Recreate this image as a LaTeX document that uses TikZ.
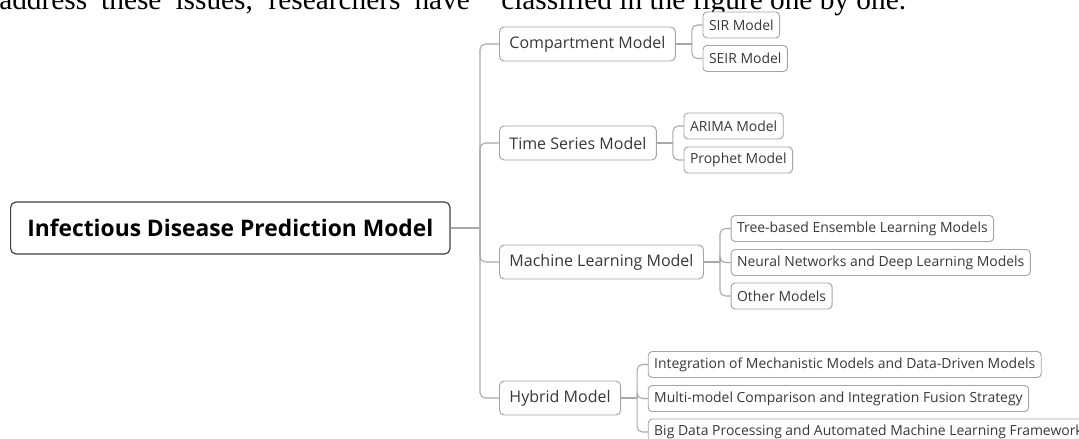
\documentclass[tikz,border=0pt]{standalone}
\usepackage{fontspec}
\setmainfont{Open Sans}
\newfontfamily\pagefont{Liberation Serif}
\usetikzlibrary{positioning}
\definecolor{lineg}{HTML}{A8A8A8}
\definecolor{boxg}{HTML}{A4A4A4}
\definecolor{txtg}{HTML}{383838}
\tikzset{
  rootbox/.style={draw=black!75, fill=white, rounded corners=4pt, line width=0.9pt,
                  minimum height=39pt, inner xsep=12.5pt, anchor=west,
                  font=\fontsize{17.1}{20}\selectfont\bfseries},
  catbox/.style={draw=boxg, fill=white, rounded corners=3.5pt, line width=0.7pt,
                 minimum height=25.5pt, inner xsep=7.5pt, anchor=west, text=txtg,
                 font=\fontsize{12}{14}\selectfont},
  leafbox/.style={draw=boxg, fill=white, rounded corners=3pt, line width=0.7pt,
                  minimum height=19.5pt, inner xsep=4.5pt, anchor=west, text=txtg,
                  xshift=8pt, font=\fontsize{10.45}{12}\selectfont},
  br/.style={draw=lineg, line width=0.8pt, rounded corners=4pt},        % branch line
  pagetxt/.style={font=\pagefont\fontsize{22}{26}\selectfont, inner sep=0pt, anchor=base west},
}
\begin{document}
\begin{tikzpicture}[x=0.75pt, y=-0.75pt]
  \path[use as bounding box] (0,0) rectangle (1079,439);
  \clip (0,0) rectangle (1079,439);
  % text of the page, cut off above the figure
  \node[pagetxt] (pl) at (-1,10) {\makebox[353pt][s]{address these issues, researchers have}};
  \node[pagetxt] (pr) at (501,10) {classified in the figure one by one.};

  \node[rootbox] (root) at (10,228) {Infectious Disease Prediction Model};
  % first level
  \node[catbox] (cm) at (499,44)  {Compartment Model};
  \node[catbox] (ts) at (499,143) {Time Series Model};
  \node[catbox] (ml) at (499,262) {Machine Learning Model};
  \node[catbox] (hy) at (499,398) {Hybrid Model};
  % junctions
  \coordinate (rj) at (480,228);
  \coordinate[right=12pt of cm] (cmj);
  \coordinate[right=12pt of ts] (tsj);
  \coordinate[right=12pt of ml] (mlj);
  \coordinate[right=12pt of hy] (hyj);
  % second level
  \node[leafbox] (sir)  at (cmj |- 0,25)    {SIR Model};
  \node[leafbox] (seir) at (cmj |- 0,58.5)  {SEIR Model};
  \node[leafbox] (ar)   at (tsj |- 0,126)   {ARIMA Model};
  \node[leafbox] (pro)  at (tsj |- 0,160)   {Prophet Model};
  \node[leafbox] (tree) at (mlj |- 0,228.5) {Tree-based Ensemble Learning Models};
  \node[leafbox] (nn)   at (mlj |- 0,262.5) {Neural Networks and Deep Learning Models};
  \node[leafbox] (oth)  at (mlj |- 0,296)   {Other Models};
  \node[leafbox] (mech) at (hyj |- 0,364.5) {Integration of Mechanistic Models and Data-Driven Models};
  \node[leafbox] (fus)  at (hyj |- 0,398.5) {Multi-model Comparison and Integration Fusion Strategy};
  \node[leafbox] (big)  at (hyj |- 0,432)   {Big Data Processing and Automated Machine Learning Framework};

  % branches
  \draw[br] (root.east) -- (rj);
  \foreach \c in {cm,ts,ml,hy} \draw[br] (rj) |- (\c.west);
  \draw[br] (cm.east) -- (cmj);
  \foreach \c in {sir,seir} \draw[br] (cmj) |- (\c.west);
  \draw[br] (ts.east) -- (tsj);
  \foreach \c in {ar,pro} \draw[br] (tsj) |- (\c.west);
  \draw[br] (ml.east) -- (mlj);
  \foreach \c in {tree,nn,oth} \draw[br] (mlj) |- (\c.west);
  \draw[br] (hy.east) -- (hyj);
  \foreach \c in {mech,fus,big} \draw[br] (hyj) |- (\c.west);
\end{tikzpicture}
\end{document}
